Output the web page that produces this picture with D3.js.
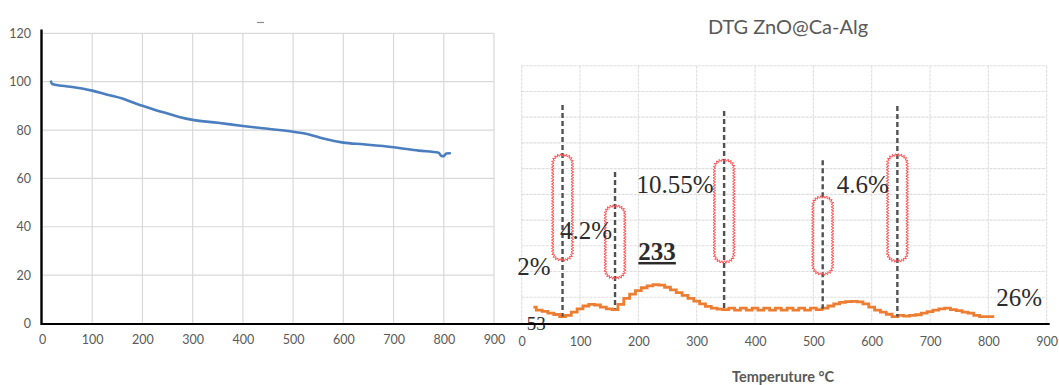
<!DOCTYPE html>
<html>
<head>
<meta charset="utf-8">
<script src="https://cdn.jsdelivr.net/npm/d3@7"></script>
<style>
  html, body { margin: 0; padding: 0; background: #fff; }
  svg { display: block; }
</style>
</head>
<body>
<svg id="chart" width="1059" height="385"></svg>
<script>
// TGA mass-loss curve (temperature °C, mass %)
const tgaTemp = [18, 20, 40, 60, 80, 100, 130, 160, 180, 200, 230, 250, 275, 300, 350, 400, 450, 500, 530, 560, 600, 640, 700, 750, 790, 795, 800, 805, 812];
const tgaMass = [100, 99, 98.3, 97.8, 97.2, 96.3, 94.6, 93, 91.5, 90, 88, 86.8, 85.3, 84.2, 83, 81.7, 80.5, 79.3, 78.3, 76.5, 74.8, 74.1, 72.9, 71.5, 70.6, 69.3, 69.2, 70.3, 70.4];

// DTG signal sampled every 10 °C (arbitrary units)
const dtgTemp = d3.range(20, 811, 10);
const dtgValue = [
  0.62, 0.50, 0.45, 0.38, 0.33, 0.25, 0.30, 0.42, 0.55, 0.66,   // 20-110
  0.72, 0.70, 0.62, 0.55, 0.52, 0.72, 0.96, 1.12, 1.26, 1.37,   // 120-210
  1.44, 1.49, 1.47, 1.39, 1.29, 1.18, 1.07, 0.96, 0.85, 0.74,   // 220-310
  0.65, 0.58, 0.54, 0.52, 0.58, 0.50, 0.58, 0.50, 0.58, 0.50,   // 320-410
  0.58, 0.50, 0.58, 0.50, 0.58, 0.50, 0.58, 0.50, 0.58, 0.52,   // 420-510
  0.58, 0.66, 0.74, 0.80, 0.83, 0.84, 0.82, 0.74, 0.62, 0.50,   // 520-610
  0.42, 0.34, 0.25, 0.30, 0.27, 0.30, 0.32, 0.38, 0.44, 0.50,   // 620-710
  0.55, 0.58, 0.52, 0.48, 0.42, 0.38, 0.30, 0.25, 0.25, 0.25    // 720-810
];

// Tick labels
const xTicks = [0, 100, 200, 300, 400, 500, 600, 700, 800, 900];
const tgaYTicks = [0, 20, 40, 60, 80, 100, 120];
const dtgGrid = [1, 2, 3, 4, 5, 6, 7, 8, 9, 10];

// Decomposition step markers: temperature, dashed-line top/bottom, box top/bottom
const stepTemp   = [70, 160, 347, 516, 644];
const stepTop    = [8.47, 5.87, 8.24, 6.33, 8.43];
const stepBottom = [0.25, 0.55, 0.52, 0.55, 0.25];
const boxTop     = [6.53, 4.55, 6.33, 4.90, 6.53];
const boxBottom  = [2.45, 1.75, 2.37, 1.90, 2.41];

// Annotation texts with anchor temperature / value
const noteText  = ["2%", "4.2%", "10.55%", "233", "4.6%", "26%", "53"];
const noteTemp  = [-7.5, 65.7, 197, 200, 540, 813.5, 8.6];
const noteValue = [1.87, 3.26, 5.05, 2.45, 5.05, 0.66, -0.27];

const svg = d3.select("#chart");
const grey = "#595959";
const sans = "Lato, 'Open Sans', sans-serif";

// ---------- Left panel: TGA ----------
const xL = d3.scaleLinear().domain([0, 900]).range([42, 494]);
const yL = d3.scaleLinear().domain([0, 120]).range([323.5, 33.3]);

const left = svg.append("g");
left.append("g").selectAll("line").data(tgaYTicks.filter(d => d > 0)).join("line")
  .attr("x1", xL(0)).attr("x2", xL(900))
  .attr("y1", d => yL(d)).attr("y2", d => yL(d))
  .attr("stroke", "#d9d9d9").attr("stroke-width", 1.2);
left.append("g").selectAll("line").data(xTicks.filter(d => d > 0)).join("line")
  .attr("x1", d => xL(d)).attr("x2", d => xL(d))
  .attr("y1", yL(120)).attr("y2", yL(0))
  .attr("stroke", "#d9d9d9").attr("stroke-width", 1.2);

const axLeftY = left.append("g").attr("transform", `translate(${xL(0)},0)`)
  .call(d3.axisLeft(yL).tickValues(tgaYTicks).tickSize(0).tickPadding(11));
axLeftY.select(".domain").remove();
axLeftY.selectAll("text").attr("fill", grey).style("font-family", sans).style("font-size", "12.5px");

const axLeftX = left.append("g").attr("transform", `translate(0,${yL(0)})`)
  .call(d3.axisBottom(xL).tickValues(xTicks).tickSize(0).tickPadding(12));
axLeftX.select(".domain").remove();
axLeftX.selectAll("text").attr("fill", grey).style("font-family", sans).style("font-size", "12.5px");

// small placeholder mark above the TGA plot
left.append("line").attr("x1", 257).attr("x2", 264).attr("y1", 22.5).attr("y2", 22.5)
  .attr("stroke", "#8c8c8c").attr("stroke-width", 1.2);

const tgaLine = d3.line().x((d, i) => xL(tgaTemp[i])).y(d => yL(d)).curve(d3.curveMonotoneX);
left.append("path").datum(tgaMass)
  .attr("d", tgaLine)
  .attr("fill", "none").attr("stroke", "#4a7ebf").attr("stroke-width", 2.6)
  .attr("stroke-linejoin", "round").attr("stroke-linecap", "round");

// ---------- Right panel: DTG ----------
const xR = d3.scaleLinear().domain([0, 900]).range([521.7, 1046.7]);
const yR = d3.scaleLinear().domain([0, 10]).range([323, 65.7]);

const right = svg.append("g");
right.append("g").selectAll("line").data(dtgGrid).join("line")
  .attr("x1", xR(0)).attr("x2", xR(900))
  .attr("y1", d => yR(d)).attr("y2", d => yR(d))
  .attr("stroke", "#dedede").attr("stroke-width", 1.1).attr("stroke-dasharray", "3,1");
right.append("g").selectAll("line").data(xTicks).join("line")
  .attr("x1", d => xR(d)).attr("x2", d => xR(d))
  .attr("y1", yR(10)).attr("y2", yR(0))
  .attr("stroke", "#dedede").attr("stroke-width", 1.1).attr("stroke-dasharray", "3,1");

const axRightX = right.append("g").attr("transform", `translate(0,${yR(0)})`)
  .call(d3.axisBottom(xR).tickValues(xTicks).tickSize(0).tickPadding(14));
axRightX.select(".domain").remove();
axRightX.selectAll("text").attr("fill", grey).style("font-family", sans).style("font-size", "12.5px");

// title and axis title
right.append("text").attr("x", 788).attr("y", 34).attr("text-anchor", "middle")
  .attr("fill", grey).style("font-family", sans).style("font-size", "20px")
  .text("DTG ZnO@Ca-Alg");
right.append("text").attr("x", 783).attr("y", 382).attr("text-anchor", "middle")
  .attr("fill", grey).style("font-family", sans).style("font-size", "14.5px")
  .style("font-weight", "bold")
  .text("Temperuture °C");

// DTG curve
const dtgLine = d3.line().x((d, i) => xR(dtgTemp[i])).y(d => yR(d)).curve(d3.curveStep);
right.append("path").datum(dtgValue)
  .attr("d", dtgLine)
  .attr("fill", "none").attr("stroke", "#ed7d31").attr("stroke-width", 2.8)
  .attr("stroke-linejoin", "miter");

// Dashed step markers
right.append("g").selectAll("line").data(stepTemp).join("line")
  .attr("x1", d => xR(d)).attr("x2", d => xR(d))
  .attr("y1", (d, i) => yR(stepTop[i])).attr("y2", (d, i) => yR(stepBottom[i]))
  .attr("stroke", "#505050").attr("stroke-width", 2.4).attr("stroke-dasharray", "5,3");

// Wavy-outlined rounded boxes around each marker
function zigzagPath(x0, y0, x1, y1, r, amp, step) {
  const tmp = svg.append("path")
    .attr("d", `M${x0 + r},${y0}H${x1 - r}A${r},${r} 0 0 1 ${x1},${y0 + r}V${y1 - r}` +
               `A${r},${r} 0 0 1 ${x1 - r},${y1}H${x0 + r}A${r},${r} 0 0 1 ${x0},${y1 - r}` +
               `V${y0 + r}A${r},${r} 0 0 1 ${x0 + r},${y0}Z`)
    .attr("fill", "none");
  const el = tmp.node();
  const len = el.getTotalLength();
  let n = Math.round(len / step);
  if (n % 2) n += 1;
  const pts = [];
  for (let k = 0; k < n; k++) {
    const s = (k / n) * len;
    const p = el.getPointAtLength(s);
    const q = el.getPointAtLength((s + 0.5) % len);
    const dx = q.x - p.x, dy = q.y - p.y;
    const m = Math.hypot(dx, dy) || 1;
    const nx = dy / m, ny = -dx / m;
    const o = (k % 2 === 0 ? 1 : -1) * amp;
    pts.push([(p.x + nx * o).toFixed(2), (p.y + ny * o).toFixed(2)]);
  }
  tmp.remove();
  return "M" + pts.map(p => p.join(",")).join("L") + "Z";
}
right.append("g").selectAll("path").data(stepTemp).join("path")
  .attr("d", (d, i) => zigzagPath(xR(d) - 9.8, yR(boxTop[i]), xR(d) + 9.8, yR(boxBottom[i]), 8, 1.3, 1.4))
  .attr("fill", "none").attr("stroke", "#ff5050").attr("stroke-width", 1);

// Annotation texts
right.append("g").selectAll("text").data(noteText).join("text")
  .attr("x", (d, i) => xR(noteTemp[i])).attr("y", (d, i) => yR(noteValue[i]))
  .attr("fill", "#2b2b2b")
  .style("font-family", "'Liberation Serif', 'Times New Roman', serif")
  .style("font-size", d => d === "53" ? "19px" : "25px")
  .style("font-weight", d => d === "233" ? "bold" : "normal")
  .style("text-decoration", d => d === "233" ? "underline" : "none")
  .text(d => d);

// shared baseline axis running under both panels
svg.append("line").attr("x1", xL(0) - 1).attr("x2", xR(900) + 3)
  .attr("y1", 324).attr("y2", 324).attr("stroke", "#000").attr("stroke-width", 2);
svg.append("line").attr("x1", xL(0) - 0.5).attr("x2", xL(0) - 0.5)
  .attr("y1", 29.5).attr("y2", 325).attr("stroke", "#000").attr("stroke-width", 2.4);
</script>
</body>
</html>
